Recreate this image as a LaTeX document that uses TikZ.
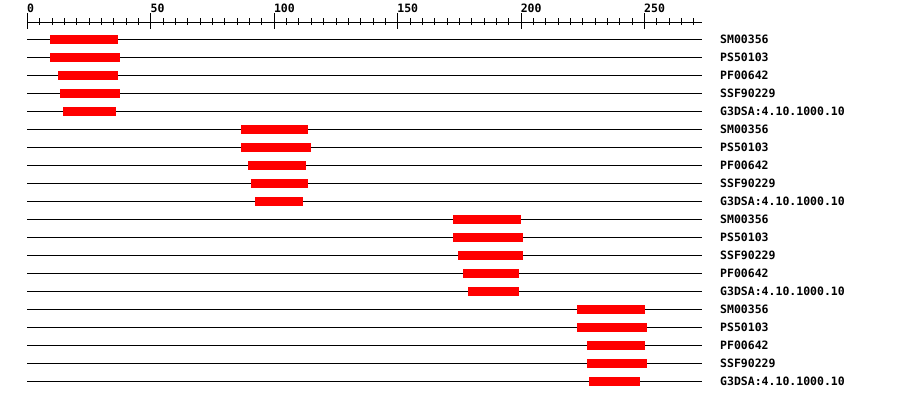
\documentclass[tikz,border=0pt]{standalone}
\usepackage{fontspec}
\setmonofont{DejaVu Sans Mono}
\definecolor{barred}{RGB}{255,0,0}
\begin{document}
\begin{tikzpicture}[x=1pt,y=-1pt,
  track/.style={draw=black,line width=1pt},
  featbar/.style={fill=barred},
  lbl/.style={font=\ttfamily\bfseries\fontsize{11.5}{12}\selectfont,inner sep=0pt,anchor=west},
  axlbl/.style={font=\ttfamily\bfseries\fontsize{11.5}{12}\selectfont,inner sep=0pt,anchor=south west},
  tick/.style={draw=black,line width=1pt}]
\useasboundingbox (0,0) rectangle (900,400);
\fill[white] (0,0) rectangle (900,400);
% axis
\coordinate (axL) at (27,22.5);
\coordinate (axR) at (702,22.5);
\draw[tick] (axL) -- (axR);
\foreach \k in {0,...,54}{
  \pgfmathsetmacro{\xx}{27.5+12.34*\k}
  \pgfmathtruncatemacro{\mm}{mod(\k,10)}
  \ifnum\mm=0
    \draw[tick] (\xx,13) -- (\xx,29);
  \else
    \draw[tick] (\xx,18) -- (\xx,25);
  \fi
}
\foreach \v/\nm in {0/a0,50/a50,100/a100,150/a150,200/a200,250/a250}{
  \pgfmathsetmacro{\xx}{27+12.34*\v/5}
  \node[axlbl] (\nm) at (\xx,12.5) {\v};
}
% rows
\foreach \i/\s/\e/\t in {
  0/50/118/SM00356, 1/50/120/PS50103, 2/58/118/PF00642, 3/60/120/SSF90229, 4/63/116/G3DSA:4.10.1000.10,
  5/241/308/SM00356, 6/241/311/PS50103, 7/248/306/PF00642, 8/251/308/SSF90229, 9/255/303/G3DSA:4.10.1000.10,
  10/453/521/SM00356, 11/453/523/PS50103, 12/458/523/SSF90229, 13/463/519/PF00642, 14/468/519/G3DSA:4.10.1000.10,
  15/577/645/SM00356, 16/577/647/PS50103, 17/587/645/PF00642, 18/587/647/SSF90229, 19/589/640/G3DSA:4.10.1000.10}{
  \pgfmathsetmacro{\yy}{39.5+18*\i}
  \coordinate (l\i) at (27,\yy);
  \coordinate (r\i) at (702,\yy);
  \draw[track] (l\i) -- (r\i);
  \fill[featbar] (\s,\yy-4.5) rectangle (\e,\yy+4.5);
  \node[lbl] (t\i) at (720,\yy) {\t};
}
\end{tikzpicture}
\end{document}
